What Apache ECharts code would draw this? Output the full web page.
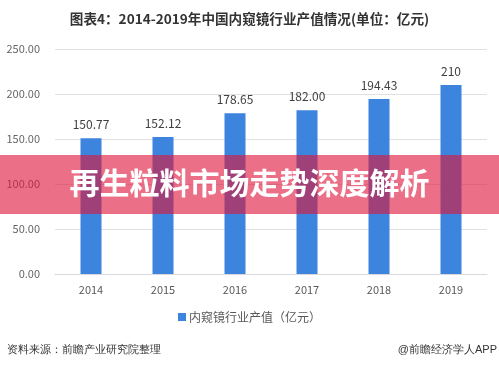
<!DOCTYPE html>
<html><head><meta charset="utf-8">
<script src="https://cdn.jsdelivr.net/npm/echarts@6/dist/echarts.min.js"></script>
<style>html,body{margin:0;padding:0;background:#fff}#c{width:499px;height:369px}</style>
</head><body><div id="c"></div>
<script>
var categories = ['2014','2015','2016','2017','2018','2019'];
var values = [150.77, 152.12, 178.65, 182.00, 194.43, 210];
var valueLabels = ['150.77','152.12','178.65','182.00','194.43','210'];
var seriesName = '内窥镜行业产值（亿元）';
var titleText = '图表4：2014-2019年中国内窥镜行业产值情况(单位：亿元)';
var sourceText = '资料来源：前瞻产业研究院整理';
var brandText = '@前瞻经济学人APP';
var bannerText = '再生粒料市场走势深度解析';

var chart = echarts.init(document.getElementById('c'), null, {renderer:'canvas'});
var font = '"Microsoft YaHei","Noto Sans CJK SC",sans-serif';
chart.setOption({
  animation:false,
  backgroundColor:'#fff',
  title:{text:titleText,left:'center',top:7,textStyle:{fontSize:13.6,fontWeight:'bold',color:'#333',fontFamily:font}},
  grid:{left:55,right:12,top:49,bottom:95,containLabel:false},
  legend:{data:[seriesName],bottom:41,left:'center',itemWidth:8,itemHeight:8,icon:'rect',itemGap:4,
    textStyle:{fontSize:12,color:'#595959',fontFamily:font,padding:[0,0,0,-2]}},
  xAxis:{type:'category',data:categories,axisTick:{show:false},
    axisLine:{lineStyle:{color:'#d9d9d9'}},
    axisLabel:{color:'#595959',fontSize:11,margin:10,fontFamily:font}},
  yAxis:{type:'value',min:0,max:250,interval:50,
    axisLine:{show:false},axisTick:{show:false},
    splitLine:{lineStyle:{color:'#e0e0e0'}},
    axisLabel:{color:'#666',fontSize:11,margin:15,fontFamily:font,formatter:function(v){return v.toFixed(2);}}},
  series:[{name:seriesName,type:'bar',data:values,barWidth:21,
    itemStyle:{color:'#3c84de'},
    label:{show:true,position:'top',distance:8,color:'#404040',fontSize:12,fontFamily:font,
      formatter:function(p){return valueLabels[p.dataIndex];}}}],
  graphic:[
    {type:'text',left:7,top:344,style:{text:sourceText,fontSize:11,fill:'#333',font:'11px '+font}},
    {type:'text',right:2,top:344,style:{text:brandText,fontSize:11,fill:'#333',font:'11px '+font}},
    {type:'rect',left:0,top:155,z:100,shape:{width:499,height:59},style:{fill:'rgba(222,22,60,0.62)'}},
    {type:'text',left:'center',top:168,z:101,style:{text:bannerText,fill:'#fff',font:'bold 30px '+font}}
  ]
});
</script></body></html>
